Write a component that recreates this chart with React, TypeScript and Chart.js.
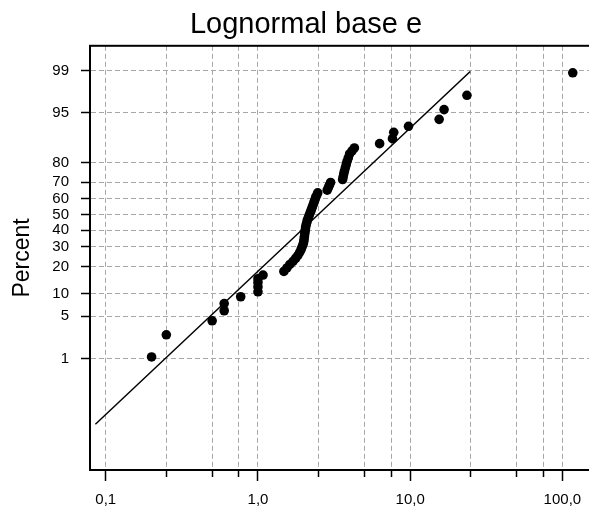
import React, { useEffect, useRef } from "react";
import { Chart, registerables } from "chart.js";

Chart.register(...registerables);

// ---- data ----
const TITLE = "Lognormal base e";
const Y_TITLE = "Percent";

// observed values (x) and plotting percent (y)
const pointX = [
  0.2, 0.25, 0.5, 0.6, 0.6, 0.77, 1.0, 1.0, 1.0, 1.0, 1.08,
  1.48, 1.55, 1.62, 1.7, 1.77, 1.83, 1.88, 1.92, 1.95,
  1.98, 2.0, 2.01, 2.02, 2.03, 2.04, 2.05, 2.06, 2.08, 2.1, 2.12, 2.15,
  2.18, 2.21, 2.24, 2.27, 2.3, 2.33, 2.36, 2.39, 2.43, 2.47,
  2.85, 2.9, 2.95, 3.0,
  3.6, 3.63, 3.66, 3.7, 3.75, 3.8, 3.85, 3.92, 4.0, 4.15, 4.3,
  6.3, 7.65, 7.8, 9.75, 15.5, 16.7, 23.6, 117,
];
const pointPct = [
  1.07, 2.6, 4.3, 6.0, 7.5, 9.2, 10.6, 12.1, 13.6, 15.0, 16.4,
  17.9, 19.4, 21.0, 22.5, 24.0, 25.5, 27.1, 28.6, 30.1,
  31.6, 33.2, 34.7, 36.2, 37.8, 39.3, 40.8, 42.3, 43.9, 45.4, 46.9, 48.4,
  50.0, 51.5, 53.0, 54.6, 56.1, 57.6, 59.1, 60.7, 62.2, 63.7,
  65.3, 66.8, 68.3, 69.8,
  71.4, 72.9, 74.4, 75.9, 77.5, 79.0, 80.5, 82.0, 83.6, 84.8, 85.9,
  87.4, 89.0, 90.8, 92.3, 93.8, 95.5, 97.3, 98.9,
];

// fitted line end points
const lineX = [0.0855, 24.8];
const linePct = [0.035, 98.96];

// axes
const xGridValues = [0.1, 0.25, 0.5, 0.75, 1, 2.5, 5, 7.5, 10, 25, 50, 75, 100];
const xMajorValues = [0.1, 1, 10, 100];
const xMajorLabels = ["0,1", "1,0", "10,0", "100,0"];
const X_MIN = 0.0788;
const X_MAX = 197;

const yTickPct = [1, 5, 10, 20, 30, 40, 50, 60, 70, 80, 95, 99];
const Y_MIN_PCT = 0.00183;
const Y_MAX_PCT = 99.68;

// inverse standard normal CDF (Acklam)
function probit(p: number): number {
  const a = [-3.969683028665376e1, 2.209460984245205e2, -2.759285104469687e2, 1.38357751867269e2, -3.066479806614716e1, 2.506628277459239];
  const b = [-5.447609879822406e1, 1.615858368580409e2, -1.556989798598866e2, 6.680131188771972e1, -1.328068155288572e1];
  const c = [-7.784894002430293e-3, -3.223964580411365e-1, -2.400758277161838, -2.549732539343734, 4.374664141464968, 2.938163982698783];
  const d = [7.784695709041462e-3, 3.224671290700398e-1, 2.445134137142996, 3.754408661907416];
  const pl = 0.02425;
  const ph = 1 - pl;
  let q: number, r: number;
  if (p < pl) {
    q = Math.sqrt(-2 * Math.log(p));
    return (((((c[0] * q + c[1]) * q + c[2]) * q + c[3]) * q + c[4]) * q + c[5]) / ((((d[0] * q + d[1]) * q + d[2]) * q + d[3]) * q + 1);
  }
  if (p <= ph) {
    q = p - 0.5;
    r = q * q;
    return ((((((a[0] * r + a[1]) * r + a[2]) * r + a[3]) * r + a[4]) * r + a[5]) * q) / (((((b[0] * r + b[1]) * r + b[2]) * r + b[3]) * r + b[4]) * r + 1);
  }
  q = Math.sqrt(-2 * Math.log(1 - p));
  return -(((((c[0] * q + c[1]) * q + c[2]) * q + c[3]) * q + c[4]) * q + c[5]) / ((((d[0] * q + d[1]) * q + d[2]) * q + d[3]) * q + 1);
}
const zOf = (pct: number) => probit(pct / 100);

const FONT = "'Liberation Sans', Arial, Helvetica, sans-serif";

const framePlugin = {
  id: "frame",
  afterDraw(chart: any) {
    const { ctx, chartArea } = chart;
    ctx.save();
    ctx.strokeStyle = "#000";
    ctx.lineWidth = 2;
    ctx.strokeRect(chartArea.left, chartArea.top, chartArea.right - chartArea.left, chartArea.bottom - chartArea.top);
    ctx.restore();
  },
};

export default function App() {
  const ref = useRef<HTMLCanvasElement | null>(null);

  useEffect(() => {
    if (!ref.current) return;
    Chart.defaults.font.family = FONT;
    const points = pointX.map((x, i) => ({ x, y: zOf(pointPct[i]) }));
    const fit = lineX.map((x, i) => ({ x, y: zOf(linePct[i]) }));

    const chart = new Chart(ref.current, {
      type: "scatter",
      data: {
        datasets: [
          {
            type: "line",
            data: fit,
            borderColor: "#000",
            borderWidth: 1.5,
            pointRadius: 0,
            fill: false,
            order: 2,
          } as any,
          {
            data: points,
            backgroundColor: "#000",
            borderWidth: 0,
            pointRadius: 4.8,
            order: 1,
          },
        ],
      },
      options: {
        responsive: false,
        animation: false,
        events: [],
        layout: { padding: { left: 0, right: 0, top: 0, bottom: 0 } },
        plugins: {
          legend: { display: false },
          tooltip: { enabled: false },
          title: {
            display: true,
            text: TITLE,
            color: "#000",
            font: { family: FONT, size: 29, weight: "normal" as any },
            padding: { top: 8, bottom: 3 },
          },
        },
        scales: {
          x: {
            type: "logarithmic",
            min: X_MIN,
            max: X_MAX,
            afterBuildTicks: (s: any) => {
              s.ticks = xGridValues.map((v) => ({ value: v, major: false }));
            },
            afterFit: (s: any) => {
              s.height = 44;
            },
            ticks: {
              autoSkip: false,
              maxRotation: 0,
              color: "#000",
              font: { family: FONT, size: 15 },
              padding: 10,
              callback: (v: any) => {
                const i = xMajorValues.findIndex((m) => Math.abs(m - Number(v)) < 1e-9);
                return i >= 0 ? xMajorLabels[i] : "";
              },
            },
            grid: {
              color: "#a8a8a8",
              lineWidth: 1,
              tickLength: 11,
              tickColor: "#000",
              tickWidth: 1.5,
              tickBorderDash: (ctx: any) => {
                const v = ctx.tick ? ctx.tick.value : 0;
                const isMajor = xMajorValues.some((m) => Math.abs(m - v) < 1e-9);
                return isMajor ? [] : [6, 40];
              },
            } as any,
            border: { color: "#000", width: 2, dash: [5, 3] },
          },
          y: {
            type: "linear",
            min: zOf(Y_MIN_PCT),
            max: zOf(Y_MAX_PCT),
            afterBuildTicks: (s: any) => {
              s.ticks = yTickPct.map((p) => ({ value: zOf(p) }));
            },
            afterFit: (s: any) => {
              s.width = 90;
            },
            ticks: {
              autoSkip: false,
              color: "#000",
              font: { family: FONT, size: 15 },
              padding: 12,
              callback: (_v: any, i: number) => String(yTickPct[i]),
            },
            grid: {
              color: "#a8a8a8",
              lineWidth: 1,
              tickLength: 9,
              tickColor: "#000",
              tickWidth: 1.5,
            },
            border: { color: "#000", width: 2, dash: [5, 3] },
            title: {
              display: true,
              text: Y_TITLE,
              color: "#000",
              font: { family: FONT, size: 23 },
              padding: { top: 9, bottom: 0 },
            },
          },
        },
      },
      plugins: [framePlugin],
    });
    return () => chart.destroy();
  }, []);

  return (
    <div style={{ position: "fixed", left: 0, top: 0, width: 589, height: 514, overflow: "hidden", background: "#fff" }}>
      <canvas ref={ref} width={612} height={514} style={{ width: 612, height: 514, display: "block" }} />
    </div>
  );
}
